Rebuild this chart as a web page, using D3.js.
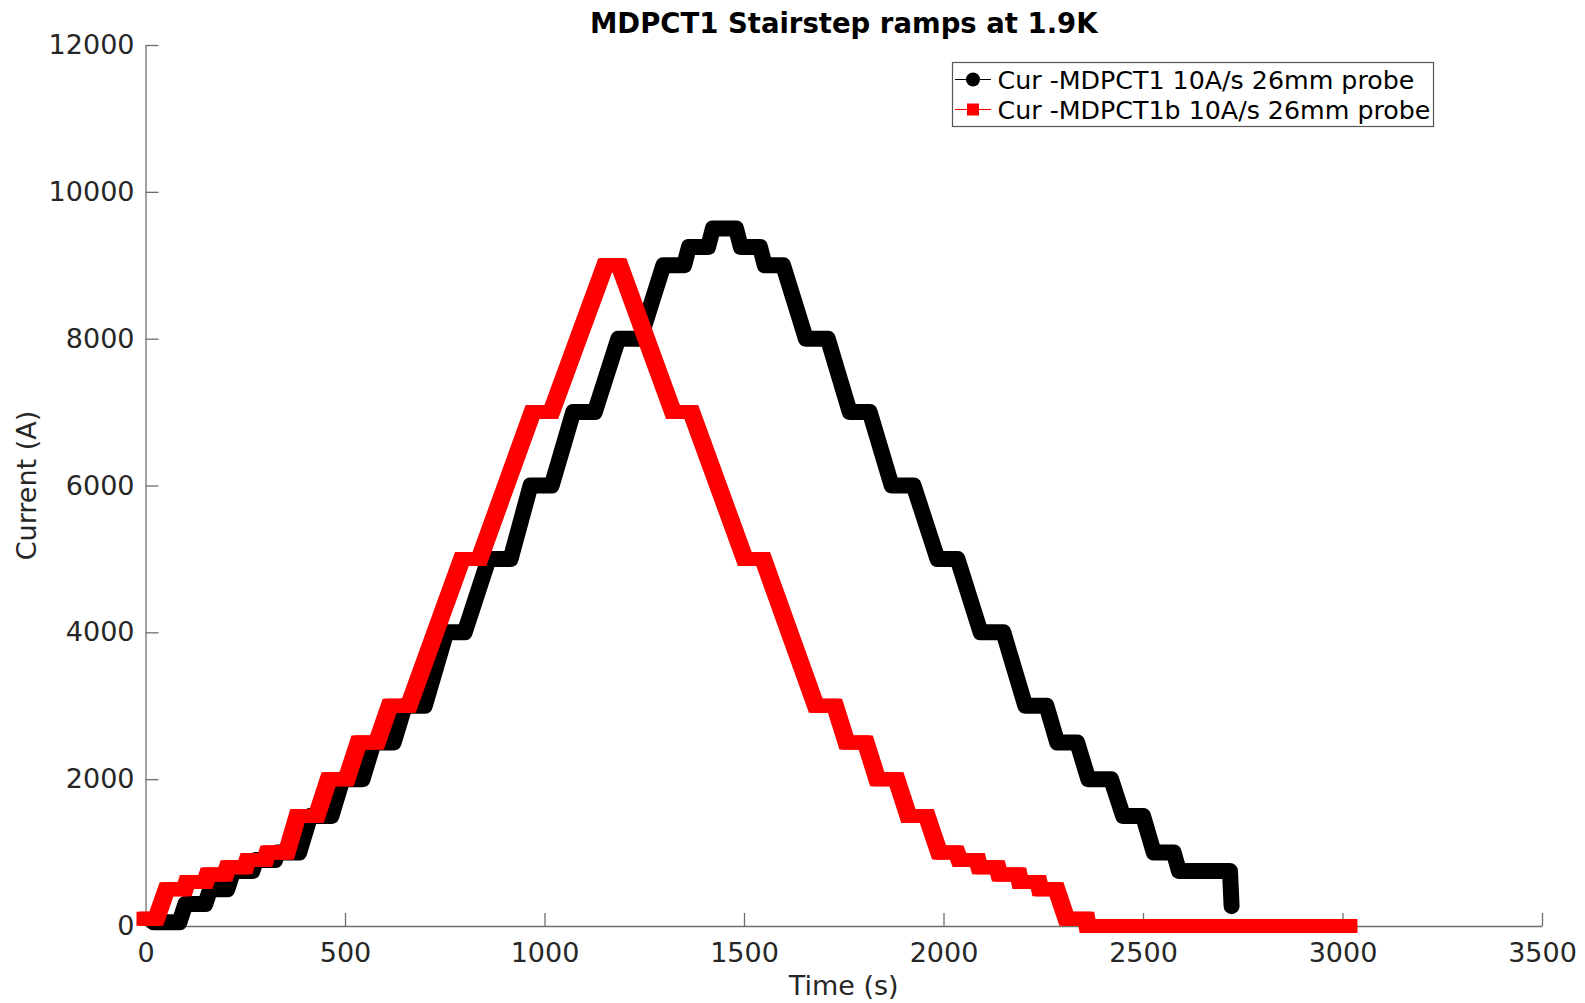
<!DOCTYPE html>
<html>
<head>
<meta charset="utf-8">
<script src="https://cdn.jsdelivr.net/npm/d3@7"></script>
<style>
  html, body { margin: 0; padding: 0; background: #fff; }
  svg { display: block; font-family: "DejaVu Sans", sans-serif; }
</style>
</head>
<body>
<svg id="chart" width="1585" height="1003"></svg>
<script>
// ---------- data ----------
const chartTitle = "MDPCT1 Stairstep ramps at 1.9K";
const xLabel = "Time (s)";
const yLabel = "Current (A)";
const seriesNames = ["Cur -MDPCT1 10A/s 26mm probe", "Cur -MDPCT1b 10A/s 26mm probe"];

const xTicks = [0, 500, 1000, 1500, 2000, 2500, 3000, 3500];
const yTicks = [0, 2000, 4000, 6000, 8000, 10000, 12000];

// MDPCT1 (black)
const blackT = [20, 85, 100, 150, 162, 205, 220, 268, 277, 325, 331, 385, 413, 466, 494, 544, 572, 622, 650, 700,
  754, 800, 860, 915, 965, 1018, 1072, 1126, 1185, 1240, 1298, 1350, 1362, 1410, 1422, 1480,
  1492, 1540, 1552, 1598, 1655, 1710, 1765, 1815, 1870, 1925, 1985, 2035, 2093, 2150, 2205, 2258,
  2285, 2335, 2363, 2420, 2450, 2500, 2527, 2577, 2590, 2718, 2722];
const blackI = [50, 50, 300, 300, 500, 500, 750, 750, 900, 900, 1000, 1000, 1500, 1500, 2000, 2000, 2500, 2500, 3000, 3000,
  4000, 4000, 5000, 5000, 6000, 6000, 7000, 7000, 8000, 8000, 9000, 9000, 9250, 9250, 9500, 9500,
  9250, 9250, 9000, 9000, 8000, 8000, 7000, 7000, 6000, 6000, 5000, 5000, 4000, 4000, 3000, 3000,
  2500, 2500, 2000, 2000, 1500, 1500, 1000, 1000, 750, 750, 270];

// MDPCT1b (red)
const redT = [0, 27, 53, 98, 104, 150, 156, 200, 206, 250, 256, 300, 306, 354, 381, 429, 459, 504, 534, 580, 612, 660,
  793, 837, 970, 1017, 1152, 1188, 1322, 1368, 1502, 1548, 1680, 1728, 1757, 1805, 1834, 1882, 1912, 1958,
  1989, 2033, 2040, 2085, 2090, 2135, 2140, 2188, 2192, 2238, 2242, 2283, 2308, 2358, 2361, 3015];
const redI = [100, 100, 500, 500, 600, 600, 700, 700, 800, 800, 900, 900, 1000, 1000, 1500, 1500, 2000, 2000, 2500, 2500, 3000, 3000,
  5000, 5000, 7000, 7000, 9000, 9000, 7000, 7000, 5000, 5000, 3000, 3000, 2500, 2500, 2000, 2000, 1500, 1500,
  1000, 1000, 900, 900, 800, 800, 700, 700, 600, 600, 500, 500, 100, 100, 0, 0];

// ---------- layout ----------
const svg = d3.select("#chart");
const X0 = 145.5, X1 = 1542, Y0 = 926, Y1 = 45;
const axisColor = "#6e6e6e";
const textColor = "#262626";

const x = d3.scaleLinear().domain([0, 3500]).range([X0, X1]);
const y = d3.scaleLinear().domain([0, 12000]).range([Y0, Y1]);

// axes (drawn below data)
const xAxis = svg.append("g")
  .attr("transform", `translate(0,${Y0})`)
  .call(d3.axisBottom(x).tickValues(xTicks).tickFormat(d3.format("d")).tickSizeInner(-13).tickSizeOuter(0).tickPadding(17));
const yAxis = svg.append("g")
  .attr("transform", `translate(${X0},0)`)
  .call(d3.axisLeft(y).tickValues(yTicks).tickFormat(d3.format("d")).tickSizeInner(-13).tickSizeOuter(0).tickPadding(11));

[xAxis, yAxis].forEach(g => {
  g.select(".domain").attr("stroke", axisColor).attr("stroke-width", 1.3);
  g.selectAll(".tick line").attr("stroke", axisColor).attr("stroke-width", 1.3);
  g.selectAll(".tick text").attr("fill", textColor)
    .style("font-family", "DejaVu Sans").style("font-size", "27px");
});

// data lines
const blackData = blackT.map((t, i) => [t, blackI[i]]);
const redData = redT.map((t, i) => [t, redI[i]]);
const line = d3.line().x(d => x(d[0])).y(d => y(d[1]));

svg.append("path").datum(blackData)
  .attr("d", line).attr("fill", "none").attr("stroke", "#000")
  .attr("stroke-width", 16).attr("stroke-linejoin", "round").attr("stroke-linecap", "round");

// red: square markers swept along the line -> emulate with small horizontal offsets
const redG = svg.append("g");
[-2, 0, 2].forEach(dx => {
  redG.append("path").datum(redData)
    .attr("transform", `translate(${dx},0)`)
    .attr("d", line).attr("fill", "none").attr("stroke", "#ff0000")
    .attr("stroke-width", 14).attr("stroke-linejoin", "miter").attr("stroke-miterlimit", 10).attr("stroke-linecap", "square");
});

// title & labels
svg.append("text").attr("x", (X0 + X1) / 2).attr("y", 32.5).attr("text-anchor", "middle")
  .attr("fill", "#000").style("font-weight", "bold").style("font-size", "27.5px").text(chartTitle);
svg.append("text").attr("x", (X0 + X1) / 2).attr("y", 995).attr("text-anchor", "middle")
  .attr("fill", textColor).style("font-size", "27px").text(xLabel);
svg.append("text").attr("transform", `translate(36,${(Y0 + Y1) / 2}) rotate(-90)`).attr("text-anchor", "middle")
  .attr("fill", textColor).style("font-size", "27px").text(yLabel);

// legend
const lg = svg.append("g");
lg.append("rect").attr("x", 952.5).attr("y", 62.5).attr("width", 481).attr("height", 64)
  .attr("fill", "#fff").attr("stroke", "#555").attr("stroke-width", 1.2);
const rows = [
  { name: seriesNames[0], color: "#000", shape: "circle", cy: 79.5 },
  { name: seriesNames[1], color: "#ff0000", shape: "square", cy: 109.5 }
];
rows.forEach(r => {
  lg.append("line").attr("x1", 955).attr("x2", 991).attr("y1", r.cy).attr("y2", r.cy)
    .attr("stroke", r.color).attr("stroke-width", 1.2);
  if (r.shape === "circle") {
    lg.append("circle").attr("cx", 973).attr("cy", r.cy).attr("r", 7).attr("fill", r.color);
  } else {
    lg.append("rect").attr("x", 967).attr("y", r.cy - 6).attr("width", 12).attr("height", 12).attr("fill", r.color);
  }
  lg.append("text").attr("x", 997.5).attr("y", r.cy + 9).attr("fill", "#000")
    .style("font-size", "25.3px").text(r.name);
});
</script>
</body>
</html>
